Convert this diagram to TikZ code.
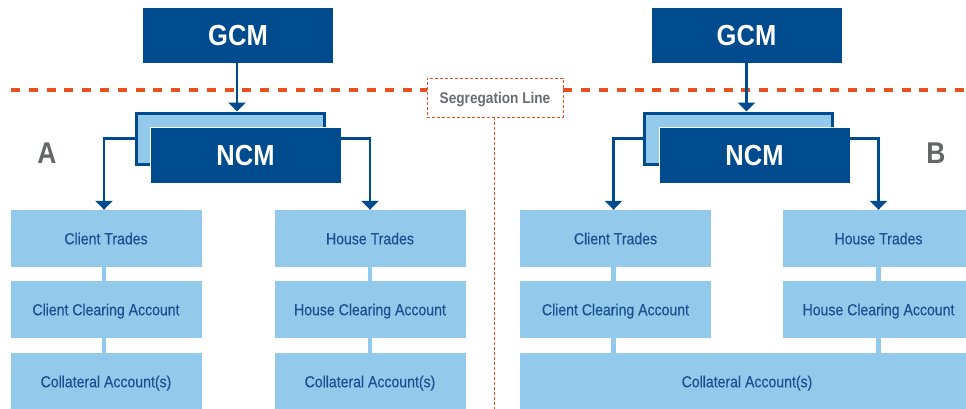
\documentclass[tikz,border=0pt]{standalone}
\usepackage{fontspec}
\setmainfont{Liberation Sans}[FakeStretch=0.88]
\newfontfamily\boxfont{Liberation Sans}[FakeStretch=0.88, FakeBold=0.35]
\usetikzlibrary{arrows.meta,calc}
\definecolor{dkblue}{RGB}{0,75,141}
\definecolor{ltblue}{RGB}{147,201,234}
\definecolor{txtblue}{RGB}{28,80,145}
\definecolor{segorange}{RGB}{232,80,30}
\definecolor{seggray}{RGB}{105,108,112}
\definecolor{lettergray}{RGB}{100,102,106}
\tikzset{
  darkbox/.style={fill=dkblue, draw=white, line width=0.6pt, text=white, inner sep=0pt,
    font=\bfseries\fontsize{29pt}{29pt}\selectfont, text height=20.8pt, text depth=0pt,
    minimum width=191pt, minimum height=56pt},
  backbox/.style={fill=ltblue, draw=dkblue, line width=3pt, inner sep=0pt,
    minimum width=188pt, minimum height=51pt},
  lightbox/.style={fill=ltblue, text=txtblue, inner sep=0pt,
    font=\boxfont\fontsize{16pt}{16pt}\selectfont, text height=11.5pt, text depth=0pt,
    minimum width=191pt, minimum height=57pt},
  arr/.style={draw=dkblue, line width=2.6pt, -{Triangle[width=17pt,length=9pt]}},
  link/.style={draw=ltblue, line width=4.5pt},
  segline/.style={draw=segorange, line width=3.5pt, dash pattern=on 9pt off 8.8pt},
  segbox/.style={draw=segorange, fill=white, line width=0.8pt, dash pattern=on 3pt off 2pt,
    text=seggray, inner sep=0pt, font=\bfseries\fontsize{15.5pt}{15.5pt}\selectfont,
    text height=11pt, text depth=0pt, minimum width=136pt, minimum height=39pt},
  segvert/.style={draw=segorange, line width=0.8pt, dash pattern=on 3pt off 2pt},
  letter/.style={text=lettergray, inner sep=0pt, font=\bfseries\fontsize{30pt}{30pt}\selectfont,
    text height=21.5pt, text depth=0pt}
}
\begin{document}
\begin{tikzpicture}[x=1pt,y=-1pt]
\useasboundingbox (0,0) rectangle (966,408);
\clip (0,0) rectangle (966,408);

% segregation line
\node[segbox] (seg) at (495,97.5) {Segregation Line};
\coordinate (dl) at (11,90);
\coordinate (dr) at (970,90);
\coordinate (vb) at (494,410);
\draw[segline] (dl) -- (dl -| seg.west);
\draw[segline] (seg.east |- dl) -- (dr);
\draw[segvert] (seg.south -| vb) -- (vb);

% ---------- A ----------
\node[darkbox] (gcmA) at (238,35) {GCM};
\node[backbox] (ncmAb) at (230,138.5) {};
\node[darkbox] (ncmA) at (245.5,155) {NCM};
\node[letter] (lA) at (47,153) {A};

\node[lightbox] (ctA) at (106,238.5) {Client Trades};
\node[lightbox] (ccA) at (106,309.5) {Client Clearing Account};
\node[lightbox, minimum height=57pt] (colA) at (106,381.5) {Collateral Account(s)};
\node[lightbox] (htA) at (370,238.5) {House Trades};
\node[lightbox] (hcA) at (370,309.5) {House Clearing Account};
\node[lightbox, minimum height=57pt] (colA2) at (370,381.5) {Collateral Account(s)};

\draw[link] ([xshift=-2pt]ctA.south) -- ([xshift=-2pt]ccA.north);
\draw[link] ([xshift=-2pt]ccA.south) -- ([xshift=-2pt]colA.north);
\draw[link] (htA.south) -- (hcA.north);
\draw[link] (hcA.south) -- (colA2.north);

\draw[arr] ([xshift=-1pt]gcmA.south) -- ([xshift=-1pt]gcmA.south |- ncmAb.north);
\draw[arr] (ncmAb.west) -| ([xshift=-2pt]ctA.north);
\draw[arr] (ncmA.east |- ncmAb.east) -| (htA.north);

% ---------- B ----------
\node[darkbox] (gcmB) at (746.5,35) {GCM};
\node[backbox] (ncmBb) at (738.5,138.5) {};
\node[darkbox] (ncmB) at (754.5,155) {NCM};
\node[letter] (lB) at (936,153) {B};

\node[lightbox] (ctB) at (615.5,238.5) {Client Trades};
\node[lightbox] (ccB) at (615.5,309.5) {Client Clearing Account};
\node[lightbox] (htB) at (878.5,238.5) {House Trades};
\node[lightbox] (hcB) at (878.5,309.5) {House Clearing Account};
\node[lightbox, minimum width=454pt, minimum height=57pt] (colB) at (747,381.5) {Collateral Account(s)};

\draw[link] ([xshift=-2pt]ctB.south) -- ([xshift=-2pt]ccB.north);
\draw[link] ([xshift=-2pt]ccB.south) -- ([xshift=-2pt]ccB.south |- colB.north);
\draw[link] (htB.south) -- (hcB.north);
\draw[link] (hcB.south) -- (hcB.south |- colB.north);

\draw[arr] (gcmB.south) -- (gcmB.south |- ncmBb.north);
\draw[arr] (ncmBb.west) -| ([xshift=-2pt]ctB.north);
\draw[arr] (ncmB.east |- ncmBb.east) -| (htB.north);
\end{tikzpicture}
\end{document}
